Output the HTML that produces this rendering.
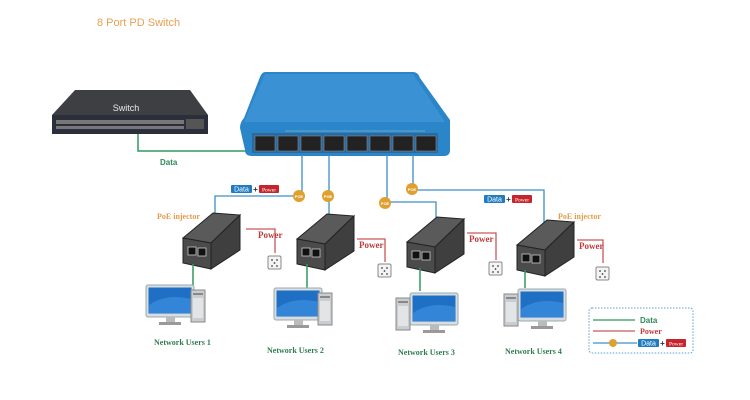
<!DOCTYPE html>
<html><head><meta charset="utf-8"><style>
html,body{margin:0;padding:0;background:#fff;}
svg{display:block;font-family:"Liberation Sans",sans-serif;}
.nu{font-family:"Liberation Serif",serif;font-weight:bold;font-size:8px;fill:#2e7d4f;}
.pw{font-family:"Liberation Serif",serif;font-weight:bold;font-size:9px;fill:#c0393b;}
.or{font-family:"Liberation Serif",serif;font-weight:bold;font-size:8px;fill:#e59a4a;}
</style></head><body>
<svg width="750" height="400" viewBox="0 0 750 400" xmlns="http://www.w3.org/2000/svg">
<defs>
<g id="inj">
  <polygon points="0,25 30,0 57,2 28,30" fill="#5a5a5a" stroke="#222" stroke-width="1"/>
  <polygon points="28,30 57,2 57,37 28,56" fill="#3f3f3f" stroke="#222" stroke-width="1"/>
  <polygon points="0,25 28,30 28,56 0,50" fill="#4b4b4b" stroke="#222" stroke-width="1"/>
  <rect x="5" y="34" width="8" height="8" fill="#111" stroke="#ccc" stroke-width="0.8"/>
  <rect x="15" y="35" width="8" height="8" fill="#111" stroke="#ccc" stroke-width="0.8"/>
</g>
<g id="outlet">
  <rect x="0" y="0" width="13" height="13" rx="1.5" fill="#f4f4f4" stroke="#888" stroke-width="1"/>
  <circle cx="4" cy="4" r="0.9" fill="#444"/><circle cx="9" cy="4" r="0.9" fill="#444"/>
  <circle cx="6.5" cy="7" r="0.9" fill="#444"/><circle cx="4" cy="10" r="0.9" fill="#444"/><circle cx="9" cy="10" r="0.9" fill="#444"/>
</g>
<g id="mon">
  <rect x="0" y="0" width="48" height="32" rx="2" fill="#d8dde2" stroke="#9aa" stroke-width="1"/>
  <rect x="2.5" y="2.5" width="43" height="26" fill="#1f6fc4"/>
  <path d="M3 20 Q20 8 45 14 L45 28 L3 28Z" fill="#3b8fe0" opacity="0.7"/>
  <rect x="20" y="32" width="9" height="5" fill="#bbb"/>
  <rect x="13" y="37" width="22" height="3" fill="#999"/>
</g>
<g id="tower">
  <rect x="0" y="0" width="14" height="32" fill="#c9ccd0" stroke="#888" stroke-width="1"/>
  <rect x="2" y="3" width="10" height="2" fill="#888"/>
  <rect x="2" y="8" width="10" height="20" fill="#e2e4e6"/>
</g>
<g id="poe">
  <circle r="6" fill="#e0a030"/>
  <text x="0" y="2" font-size="4" fill="#fff" text-anchor="middle" font-weight="bold">POE</text>
</g>
<g id="dp">
  <rect x="0" y="0" width="21" height="8" rx="1" fill="#1f7cc0"/>
  <text x="10.5" y="6.5" font-size="7" fill="#fff" text-anchor="middle">Data</text>
  <text x="24.5" y="7" font-size="8" fill="#333" text-anchor="middle" font-weight="bold">+</text>
  <rect x="28" y="0" width="20" height="8" rx="1" fill="#c4262c"/>
  <text x="38" y="6.3" font-size="5.5" fill="#fff" text-anchor="middle" font-family="Liberation Serif">Power</text>
</g>
</defs>

<text x="97" y="26" font-size="11" fill="#e8a050">8 Port PD Switch</text>

<!-- Big switch -->
<polygon points="75,90 190,90 208,115 52,115" fill="#3d3f42"/>
<rect x="52" y="115" width="156" height="19" fill="#2b2f3c"/>
<rect x="56" y="120" width="128" height="4" fill="#777"/>
<rect x="56" y="126" width="128" height="3" fill="#777"/>
<rect x="186" y="119" width="18" height="10" fill="#555"/>
<text x="126" y="111" font-size="9" fill="#e8e8e8" text-anchor="middle">Switch</text>

<!-- Green data line -->
<polyline points="138,134 138,151 246,151" fill="none" stroke="#2e9a5e" stroke-width="1.5"/>
<text x="160" y="165" font-size="8" font-weight="bold" fill="#2e8a58">Data</text>

<!-- Blue PD switch -->
<path d="M265,72 L413,72 Q418,72 420,78 L450,120 L450,150 Q450,156 444,156 L252,156 Q245,156 245,150 L240,128 Q240,122 244,118 L260,77 Q262,72 265,72Z" fill="#2b86c9"/>
<polygon points="265,74 413,74 445,122 244,122" fill="#3a92d4"/>
<rect x="252" y="133" width="186" height="20" fill="#2a6aa0"/>
<g fill="#222" stroke="#888" stroke-width="0.6">
<rect x="255" y="136" width="20" height="15"/><rect x="278" y="136" width="20" height="15"/>
<rect x="301" y="136" width="20" height="15"/><rect x="324" y="136" width="20" height="15"/>
<rect x="347" y="136" width="20" height="15"/><rect x="370" y="136" width="20" height="15"/>
<rect x="393" y="136" width="20" height="15"/><rect x="416" y="136" width="20" height="15"/>
</g>
<line x1="285" y1="131" x2="425" y2="131" stroke="#9cc" stroke-width="0.5"/>

<!-- Blue lines -->
<g fill="none" stroke="#3a90c8" stroke-width="1.3">
<polyline points="302,155 302,196 215,196 215,228"/>
<polyline points="329,155 329,230"/>
<polyline points="387,155 387,202"/>
<polyline points="387,202 436,202 436,235"/>
<polyline points="413,155 413,190 544,190 544,240"/>
</g>
<use href="#poe" x="299" y="196"/>
<use href="#poe" x="328" y="196"/>
<use href="#poe" x="385" y="203"/>
<use href="#poe" x="412" y="189"/>
<use href="#dp" x="231" y="185"/>
<use href="#dp" x="484" y="195"/>

<!-- Injectors -->
<use href="#inj" x="183" y="213"/>
<use href="#inj" x="297" y="214"/>
<use href="#inj" x="407" y="217"/>
<use href="#inj" x="517" y="220"/>
<text x="157" y="219" class="or">PoE injector</text>
<text x="558" y="219" class="or">PoE injector</text>

<!-- Power lines -->
<g fill="none" stroke="#c9575a" stroke-width="1.3">
<polyline points="246,229 275,229 275,253"/>
<polyline points="357,239 385,239 385,262"/>
<polyline points="467,233 496,233 496,260"/>
<polyline points="577,240 603,240 603,263"/>
</g>
<text x="258" y="238" class="pw">Power</text>
<text x="359" y="248" class="pw">Power</text>
<text x="469" y="242" class="pw">Power</text>
<text x="579" y="249" class="pw">Power</text>
<use href="#outlet" x="268" y="256"/>
<use href="#outlet" x="378" y="264"/>
<use href="#outlet" x="489" y="262"/>
<use href="#outlet" x="596" y="267"/>

<!-- Green lines to computers -->
<g stroke="#2e9a5e" stroke-width="1.5">
<line x1="193" y1="264" x2="193" y2="292"/>
<line x1="307" y1="264" x2="307" y2="289"/>
<line x1="420" y1="268" x2="420" y2="291"/>
<line x1="525" y1="270" x2="525" y2="288"/>
</g>

<!-- Computers -->
<use href="#mon" x="146" y="285"/><use href="#tower" x="191" y="290"/>
<use href="#mon" x="274" y="288"/><use href="#tower" x="318" y="293"/>
<use href="#mon" x="410" y="293"/><use href="#tower" x="396" y="298"/>
<use href="#mon" x="518" y="289"/><use href="#tower" x="504" y="294"/>

<text x="154" y="345" class="nu">Network Users 1</text>
<text x="267" y="353" class="nu">Network Users 2</text>
<text x="398" y="355" class="nu">Network Users 3</text>
<text x="505" y="354" class="nu">Network Users 4</text>

<!-- Legend -->
<rect x="589" y="308" width="104" height="45" rx="3" fill="none" stroke="#5aa0d0" stroke-width="1" stroke-dasharray="1.5,1.5"/>
<line x1="593" y1="320" x2="635" y2="320" stroke="#2e9a5e" stroke-width="1.3"/>
<text x="640" y="323" font-size="8" font-weight="bold" fill="#2e8a58">Data</text>
<line x1="593" y1="331" x2="635" y2="331" stroke="#c9575a" stroke-width="1.3"/>
<text x="640" y="334" font-size="8" font-weight="bold" fill="#c0393b" font-family="Liberation Serif">Power</text>
<line x1="593" y1="343" x2="637" y2="343" stroke="#3a90c8" stroke-width="1.3"/>
<circle cx="613" cy="343" r="4" fill="#e0a030"/>
<use href="#dp" x="638" y="339"/>
</svg>
</body></html>
